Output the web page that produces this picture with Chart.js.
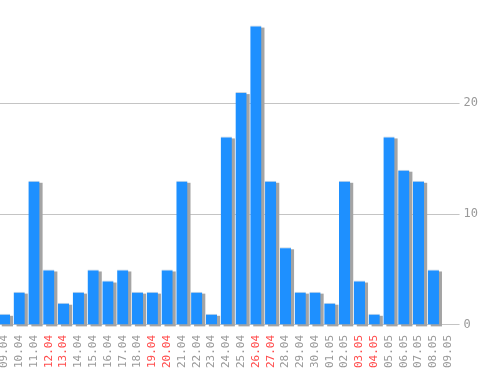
<!DOCTYPE html>
<html>
<head>
<meta charset="utf-8">
<script src="https://cdn.jsdelivr.net/npm/chart.js@4"></script>
<style>
  html, body { margin: 0; padding: 0; background: #fff; overflow: hidden; }
  #wrap { position: absolute; left: -3px; top: -10px; width: 501px; height: 381px; }
</style>
</head>
<body>
<div id="wrap"><canvas id="chart"></canvas></div>
<script>
// дни
const days = ['09.04', '10.04', '11.04', '12.04', '13.04', '14.04', '15.04', '16.04', '17.04', '18.04',
  '19.04', '20.04', '21.04', '22.04', '23.04', '24.04', '25.04', '26.04', '27.04', '28.04',
  '29.04', '30.04', '01.05', '02.05', '03.05', '04.05', '05.05', '06.05', '07.05', '08.05', '09.05'];
const counts = [1, 3, 13, 5, 2, 3, 5, 4, 5, 3,
  3, 5, 13, 3, 1, 17, 21, 27, 13, 7,
  3, 3, 2, 13, 4, 1, 17, 14, 13, 5, 0];
// выходные подсвечиваются красным
const weekends = ['12.04', '13.04', '19.04', '20.04', '26.04', '27.04', '03.05', '04.05'];
const yTicks = [0, 10, 20];

// тень под столбиками: рисуем серый прямоугольник со сдвигом
const shadowPlugin = {
  id: 'barShadow',
  beforeDatasetsDraw(chart) {
    const ctx = chart.ctx;
    const meta = chart.getDatasetMeta(0);
    ctx.save();
    ctx.fillStyle = '#a4a4a4';
    meta.data.forEach(bar => {
      const p = bar.getProps(['x', 'y', 'base', 'width'], true);
      const left = p.x - p.width / 2;
      ctx.fillRect(left + 3, p.y + 2, p.width, p.base - p.y);
    });
    ctx.restore();
  }
};

new Chart(document.getElementById('chart'), {
  type: 'bar',
  data: {
    labels: days,
    datasets: [{
      data: counts,
      backgroundColor: '#1e90ff',
      borderColor: '#c8d4e0',
      borderWidth: { top: 1, left: 0, right: 0, bottom: 0 },
      borderSkipped: false,
      barPercentage: 1,
      categoryPercentage: 0.76
    }]
  },
  options: {
    responsive: true,
    maintainAspectRatio: false,
    animation: false,
    layout: { padding: { top: 0, right: 16, bottom: 1, left: 0 } },
    plugins: {
      legend: { display: false },
      tooltip: { enabled: false }
    },
    scales: {
      x: {
        grid: { display: false },
        border: { display: false },
        ticks: {
          autoSkip: false,
          minRotation: 90,
          maxRotation: 90,
          padding: 2,
          font: { family: 'DejaVu Sans Mono', size: 11 },
          color: ctx => weekends.includes(days[ctx.index]) ? '#ff4c4c' : '#999999'
        }
      },
      y: {
        position: 'right',
        min: 0,
        max: 29.2,
        afterBuildTicks: axis => {
          axis.ticks = yTicks.map(v => ({ value: v }));
        },
        grid: { color: '#c4c4c4', lineWidth: 1, tickLength: 4 },
        border: { display: false },
        ticks: {
          padding: 4,
          font: { family: 'DejaVu Sans Mono', size: 12 },
          color: '#999999'
        }
      }
    }
  },
  plugins: [shadowPlugin]
});
</script>
</body>
</html>
